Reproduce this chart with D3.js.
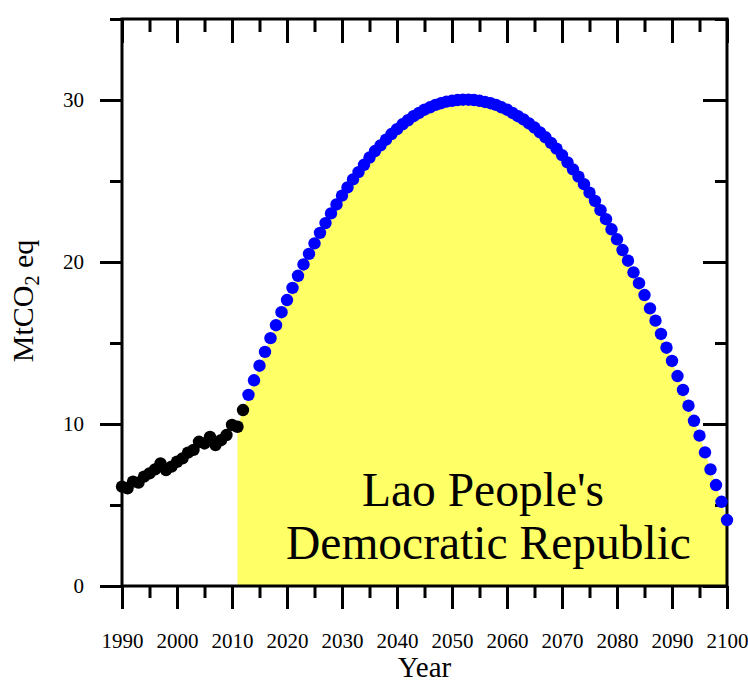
<!DOCTYPE html>
<html>
<head>
<meta charset="utf-8">
<script src="https://cdn.jsdelivr.net/npm/d3@7"></script>
<style>
  html, body { margin: 0; padding: 0; background: #fff; }
  svg { display: block; }
  text { font-family: "Liberation Serif", "Times New Roman", serif; fill: #000; }
</style>
</head>
<body>
<script>
// ---- Data ----
const histYears = [1990,1991,1992,1993,1994,1995,1996,1997,1998,1999,2000,2001,2002,2003,2004,2005,2006,2007,2008,2009,2010,2011,2012];
const histValues = [6.13,6.03,6.44,6.38,6.75,6.95,7.2,7.57,7.16,7.37,7.67,7.88,8.23,8.4,8.9,8.8,9.2,8.7,9.0,9.32,9.94,9.83,10.86];

const projYears = d3.range(2013, 2101);
const projValues = [
  11.8,12.7,13.6,14.45,15.3,16.1,16.9,17.65,18.4,19.15,
  19.85,20.5,21.15,21.8,22.4,23.0,23.55,24.1,24.6,25.1,
  25.55,26.0,26.45,26.85,27.2,27.55,27.9,28.2,28.5,28.75,
  29.0,29.2,29.4,29.55,29.7,29.8,29.9,29.95,30.0,30.02,
  30.02,30.0,29.95,29.88,29.8,29.7,29.55,29.4,29.2,29.0,
  28.8,28.55,28.3,28.0,27.7,27.35,27.0,26.6,26.15,25.72,
  25.27,24.8,24.28,23.77,23.2,22.64,22.02,21.4,20.74,20.08,
  19.36,18.69,17.96,17.14,16.38,15.56,14.71,13.89,12.96,12.1,
  11.13,10.2,9.28,8.25,7.2,6.23,5.2,4.07
];

const xMajorTicks = [1990,2000,2010,2020,2030,2040,2050,2060,2070,2080,2090,2100];
const xMinorTicks = [1995,2005,2015,2025,2035,2045,2055,2065,2075,2085,2095];
const yMajorTicks = [0,10,20,30];
const yMinorTicks = [5,15,25,35];
const shadeStartYear = 2011;
const countryLines = ["Lao People's", "Democratic Republic"];

// ---- Layout ----
const W = 748, H = 684;
const svg = d3.select("body").append("svg").attr("width", W).attr("height", H);

const x = d3.scaleLinear().domain([1990, 2100]).range([122, 727]);
const y = d3.scaleLinear().domain([0, 35]).range([586, 19]);

// Shaded area
const allPts = histYears.map((yr, i) => ({yr, v: histValues[i]}))
  .concat(projYears.map((yr, i) => ({yr, v: projValues[i]})));
const areaPts = allPts.filter(d => d.yr >= shadeStartYear);
svg.append("path")
  .datum(areaPts)
  .attr("fill", "#ffff66")
  .attr("d", d3.area().x(d => x(d.yr)).y0(y(0)).y1(d => y(d.v)));

// Country label
const lab = svg.append("g");
lab.append("text").attr("x", 483).attr("y", 506).attr("text-anchor", "middle")
  .style("font-size", "47.5px").text(countryLines[0]);
lab.append("text").attr("x", 488.5).attr("y", 559).attr("text-anchor", "middle")
  .style("font-size", "47.5px").text(countryLines[1]);

// Axes
const sw = 3;
function styleAxis(g) {
  g.select(".domain").remove();
  g.selectAll("line").attr("stroke", "#000").attr("stroke-width", sw);
  g.selectAll("text").style("font-family", '"Liberation Serif", serif').style("font-size", "21px").attr("fill", "#000");
}
// bottom
const gB = svg.append("g").attr("transform", `translate(0,${y(0)})`);
gB.call(d3.axisBottom(x).tickValues(xMajorTicks).tickSize(23).tickPadding(39).tickFormat(d3.format("d")));
styleAxis(gB);
gB.selectAll("text").attr("dy", "0");
const gBm = svg.append("g").attr("transform", `translate(0,${y(0)})`);
gBm.call(d3.axisBottom(x).tickValues(xMinorTicks).tickSize(12).tickFormat(""));
styleAxis(gBm);
// top (inward)
const gT = svg.append("g").attr("transform", `translate(0,${y(35)})`);
gT.call(d3.axisBottom(x).tickValues(xMajorTicks).tickSize(24).tickFormat(""));
styleAxis(gT);
const gTm = svg.append("g").attr("transform", `translate(0,${y(35)})`);
gTm.call(d3.axisBottom(x).tickValues(xMinorTicks).tickSize(13).tickFormat(""));
styleAxis(gTm);
// left (outward)
const gL = svg.append("g").attr("transform", `translate(${x(1990)},0)`);
gL.call(d3.axisLeft(y).tickValues(yMajorTicks).tickSize(22).tickPadding(16).tickFormat(d3.format("d")));
styleAxis(gL);
const gLm = svg.append("g").attr("transform", `translate(${x(1990)},0)`);
gLm.call(d3.axisLeft(y).tickValues(yMinorTicks).tickSize(12).tickFormat(""));
styleAxis(gLm);
// right (inward)
const gR = svg.append("g").attr("transform", `translate(${x(2100)},0)`);
gR.call(d3.axisLeft(y).tickValues(yMajorTicks).tickSize(24).tickFormat(""));
styleAxis(gR);
const gRm = svg.append("g").attr("transform", `translate(${x(2100)},0)`);
gRm.call(d3.axisLeft(y).tickValues(yMinorTicks).tickSize(12).tickFormat(""));
styleAxis(gRm);

// frame
svg.append("rect")
  .attr("x", x(1990)).attr("y", y(35))
  .attr("width", x(2100) - x(1990)).attr("height", y(0) - y(35))
  .attr("fill", "none").attr("stroke", "#000").attr("stroke-width", sw);

// Axis titles
svg.append("text").attr("x", 424.5).attr("y", 677).attr("text-anchor", "middle")
  .style("font-size", "29px").text("Year");
const yt = svg.append("text")
  .attr("transform", "translate(33,301) rotate(-90)")
  .attr("text-anchor", "middle")
  .style("font-size", "30px");
yt.append("tspan").text("MtCO");
yt.append("tspan").attr("dy", 6).style("font-size", "20px").text("2");
yt.append("tspan").attr("dy", -6).text(" eq");

// Points
const r = 6.2;
svg.append("g").selectAll("circle").data(histYears).join("circle")
  .attr("cx", (d) => x(d)).attr("cy", (d, i) => y(histValues[i])).attr("r", r).attr("fill", "#000");
svg.append("g").selectAll("circle").data(projYears).join("circle")
  .attr("cx", (d) => x(d)).attr("cy", (d, i) => y(projValues[i])).attr("r", r).attr("fill", "#0000ff");
</script>
</body>
</html>
